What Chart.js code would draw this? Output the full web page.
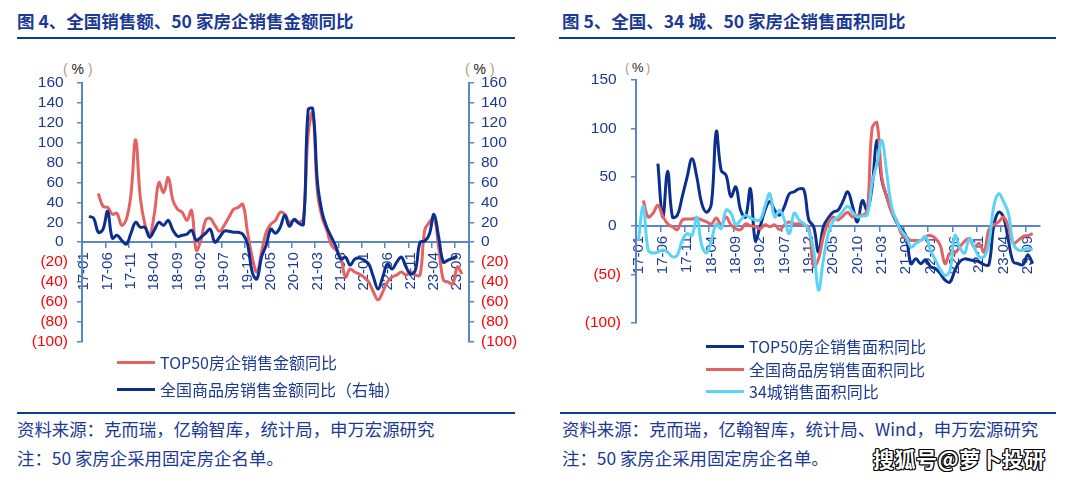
<!DOCTYPE html>
<html>
<head>
<meta charset="utf-8">
<script src="https://cdn.jsdelivr.net/npm/chart.js@4.4.0/dist/chart.umd.min.js"></script>
<style>
body { margin: 0; width: 1081px; height: 483px; background: #fff; position: relative; overflow: hidden;
       font-family: "Noto Sans CJK SC", "Noto Sans", sans-serif; }
.abs { position: absolute; white-space: nowrap; }
.title { font-weight: bold; font-size: 17.5px; line-height: 24px; color: #1c3a94; }
.rule { position: absolute; height: 2px; background: #0e3d8b; }
.src { font-size: 17.4px; line-height: 24px; color: #1c3a94; }
.leg { font-size: 16px; height: 22px; line-height: 22px; color: #1c3a94; display: flex; align-items: center; }
.leg i { display: inline-block; width: 38px; height: 3px; margin-right: 5px; }
.pct { font-family: "Liberation Sans", Arial, sans-serif; font-size: 14px; line-height: 18px; color: #222; }
.pct b { font-weight: normal; color: #b89a7a; }
.wm { font-size: 21px; line-height: 26px; font-weight: bold; color: #fff; letter-spacing: 0.5px;
      text-shadow: -1px -1px 0 #000, 1px -1px 0 #000, -1px 1px 0 #000, 1px 1px 0 #000, 0 1px 0 #000, 0 -1px 0 #000, 1px 0 0 #000, -1px 0 0 #000; }
canvas { position: absolute; }
</style>
</head>
<body>

<div class="abs title" style="left:17px;top:9px;">图 4、全国销售额、50 家房企销售金额同比</div>
<div class="rule" style="left:17px;top:37px;width:498px;"></div>
<div class="abs title" style="left:562px;top:9px;">图 5、全国、34 城、50 家房企销售面积同比</div>
<div class="rule" style="left:559px;top:37px;width:497px;"></div>

<div class="abs pct" style="left:63px;top:60px;"><b>(</b> % <b>)</b></div>
<div class="abs pct" style="left:465px;top:60px;"><b>(</b> % <b>)</b></div>
<div class="abs pct" style="left:625px;top:59px;font-size:13px;"><b>(</b>&thinsp;%&thinsp;<b>)</b></div>

<canvas id="amountChart" width="540" height="300" style="left:0;top:60px;"></canvas>
<canvas id="areaChart" width="541" height="290" style="left:540px;top:60px;"></canvas>

<div class="abs leg" style="left:117px;top:351px;"><i style="background:#e46262"></i>TOP50房企销售金额同比</div>
<div class="abs leg" style="left:117px;top:378px;"><i style="background:#0a2f8f"></i>全国商品房销售金额同比（右轴）</div>

<div class="abs leg" style="left:706px;top:335px;"><i style="background:#0a2f8f"></i>TOP50房企销售面积同比</div>
<div class="abs leg" style="left:706px;top:358px;"><i style="background:#e46262"></i>全国商品房销售面积同比</div>
<div class="abs leg" style="left:706px;top:380px;"><i style="background:#5bd3f7"></i>34城销售面积同比</div>

<div class="rule" style="left:17px;top:412px;width:498px;"></div>
<div class="rule" style="left:560px;top:412px;width:496px;"></div>

<div class="abs src" style="left:17px;top:417px;">资料来源：克而瑞，亿翰智库，统计局，申万宏源研究</div>
<div class="abs src" style="left:17px;top:446px;">注：50 家房企采用固定房企名单。</div>
<div class="abs src" style="left:562px;top:417px;">资料来源：克而瑞，亿翰智库，统计局、Wind，申万宏源研究</div>
<div class="abs src" style="left:562px;top:446px;">注：50 家房企采用固定房企名单。</div>
<div class="abs wm" style="left:873px;top:445px;">搜狐号@萝卜投研</div>

<script>
// monthly categories, 2017-01 .. 2023-11
const months = [
  '17-01','17-02','17-03','17-04','17-05','17-06','17-07','17-08','17-09','17-10','17-11','17-12',
  '18-01','18-02','18-03','18-04','18-05','18-06','18-07','18-08','18-09','18-10','18-11','18-12',
  '19-01','19-02','19-03','19-04','19-05','19-06','19-07','19-08','19-09','19-10','19-11','19-12',
  '20-01','20-02','20-03','20-04','20-05','20-06','20-07','20-08','20-09','20-10','20-11','20-12',
  '21-01','21-02','21-03','21-04','21-05','21-06','21-07','21-08','21-09','21-10','21-11','21-12',
  '22-01','22-02','22-03','22-04','22-05','22-06','22-07','22-08','22-09','22-10','22-11','22-12',
  '23-01','23-02','23-03','23-04','23-05','23-06','23-07','23-08','23-09','23-10','23-11'
];

// 图4: sales amount yoy (%)
const top50Amount = [
  null, null, null, 49, 36, 35, 28, 29, 17, 23, 48, 103,
  45, 18, 7, 28, 60, 50, 65, 42, 33, 30, 22, 32,
  -8, 2, 22, 24, 17, 11, 17, 25, 33, 35, 38, 10,
  -15, -30, -10, 10, 18, 22, 30, 28, 20, 22, 20, 24,
  108, 130, 50, 25, 12, -3, -8, -15, -35, -27, -30, -32,
  -35, -40, -50, -58, -50, -40, -35, -33, -30, -33, -30, -33,
  -33, 12, 20, 25, -5, -38, -40, -42, -25, -32, null
];
const nationalAmount = [
  null, 26, 24, 10, 13, 31, 4, 7, 2, -2, 9, 20,
  15, 15, 5, 12, 20, 17, 22, 12, 6, 7, 8, 12,
  2, 5, 9, 13, 0, 5, 11, 11, 10, 10, 8, -2,
  -30, -37, -15, -3, 13, 9, 15, 27, 16, 23, 19, 18,
  133, 134, 60, 30, 15, 5, -5, -17, -15, -23, -17, -16,
  -18, -22, -35, -47, -35, -22, -27, -20, -15, -25, -32, -28,
  0, 1, 8, 28, 5, -20, -18, -16, -14, null, null
];

// 图5: sales area yoy (%)
const top50Area = [
  null, null, null, null, 64, 9, 56, 9, 11, 30, 50, 69,
  50, 23, 14, 23, 97, 57, 52, 30, 40, 16, 9, 38,
  -15, -1, 16, 25, 16, 11, 20, 33, 35, 38, 37, 6,
  -1, -27, -1, 8, 14, 16, 25, 35, 20, 4, 26, 16,
  40, 88, 47, 30, 15, 4, -3, -11, -39, -34, -39, -35,
  -42, -44, -49, -56, -58, -46, -37, -34, -35, -36, -37, -40,
  -40, 0, 14, 9, -15, -37, -39, -40, -30, -39, null
];
const nationalArea = [
  null, 26, 9, 13, 21, 10, 2, -1, -4, 6, 7, 7,
  8, 6, 4, 2, 8, 1, 9, 1, -3, -4, 2, 0,
  -1, -3, 1, -1, 1, -4, 1, 4, 2, 2, 1, -2,
  -42, -34, -11, 3, 9, 6, 10, 14, 9, 11, 11, 15,
  100, 106, 50, 30, 14, 6, -8, -13, -15, -15, -15, -11,
  -10, -13, -20, -39, -28, -28, -22, -16, -13, -22, -18, -27,
  -4, 1, 4, 9, -1, -18, -15, -11, -10, -8, null
];
const city34Area = [
  -15, 20, -25, -28, -27, -25, -27, -32, -30, -15, -8, -10,
  9, -20, -28, -15, 2, -3, 16, 13, 1, 6, 11, 8,
  6, 6, 20, 33, 9, 16, 6, -8, 13, 6, 2, -5,
  -25, -66, -35, -8, 5, 9, 15, 20, 14, 9, 10, 11,
  44, 64, 88, 55, 20, 5, -5, -11, -22, -18, -15, -11,
  -25, -35, -45, -51, -46, -10, -22, -28, -13, -22, -32, -32,
  -18, 20, 33, 25, 13, -18, -25, -25, -23, -25, null
];

const axisColor = '#5b86c5';
const textBlue = '#1c3a94';
const negRed = '#ff0000';
const red = '#e46262';
const navy = '#0a2f8f';
const cyan = '#5bd3f7';

function line(label, data, color, axisId) {
  return {
    label: label, data: data, yAxisID: axisId,
    borderColor: color, backgroundColor: color,
    borderWidth: 3, pointRadius: 0, tension: 0.4, fill: false
  };
}

function yScale(min, max, step, side, width, pad) {
  return {
    position: side, min: min, max: max,
    grid: { drawOnChartArea: false, tickLength: 5, color: axisColor, lineWidth: 1.5 },
    border: { color: axisColor, width: 2 },
    ticks: {
      stepSize: step, padding: pad, autoSkip: false,
      font: { family: 'Liberation Sans', size: 15.5 },
      color: c => c.tick.value < 0 ? negRed : textBlue,
      callback: v => v < 0 ? '(' + (-v) + ')' : v + ' '
    },
    afterFit: s => { s.width = width; }
  };
}

function xScale() {
  return {
    type: 'category', position: { y: 0 }, offset: true,
    grid: {
      offset: true, drawOnChartArea: false, tickLength: 5, lineWidth: 1.5,
      color: c => c.index % 5 === 0 ? axisColor : 'rgba(0,0,0,0)'
    },
    border: { color: axisColor, width: 2 },
    ticks: {
      autoSkip: false, minRotation: 90, maxRotation: 90, padding: 5,
      font: { family: 'Liberation Sans', size: 15 }, color: textBlue,
      callback: (v, i) => i % 5 === 0 ? months[i] : ''
    },
    afterFit: s => { s.height = 0; }
  };
}

const common = {
  responsive: false, animation: false,
  plugins: { legend: { display: false }, tooltip: { enabled: false } }
};

new Chart(document.getElementById('amountChart'), {
  type: 'line',
  data: {
    labels: months,
    datasets: [
      line('全国商品房销售金额同比（右轴）', nationalAmount, navy, 'y1'),
      line('TOP50房企销售金额同比', top50Amount, red, 'y')
    ]
  },
  options: Object.assign({}, common, {
    layout: { padding: { top: 23, bottom: 16, left: 0, right: 0 } },
    scales: {
      x: xScale(),
      y: yScale(-100, 160, 20, 'left', 82, 9),
      y1: yScale(-100, 160, 20, 'right', 71, 7)
    }
  })
});

new Chart(document.getElementById('areaChart'), {
  type: 'line',
  data: {
    labels: months,
    datasets: [
      line('34城销售面积同比', city34Area, cyan, 'y'),
      line('全国商品房销售面积同比', nationalArea, red, 'y'),
      line('TOP50房企销售面积同比', top50Area, navy, 'y')
    ]
  },
  options: Object.assign({}, common, {
    layout: { padding: { top: 20, bottom: 27, left: 0, right: 41 } },
    scales: {
      x: xScale(),
      y: yScale(-100, 150, 50, 'left', 96, 10)
    }
  })
});
</script>
</body>
</html>
